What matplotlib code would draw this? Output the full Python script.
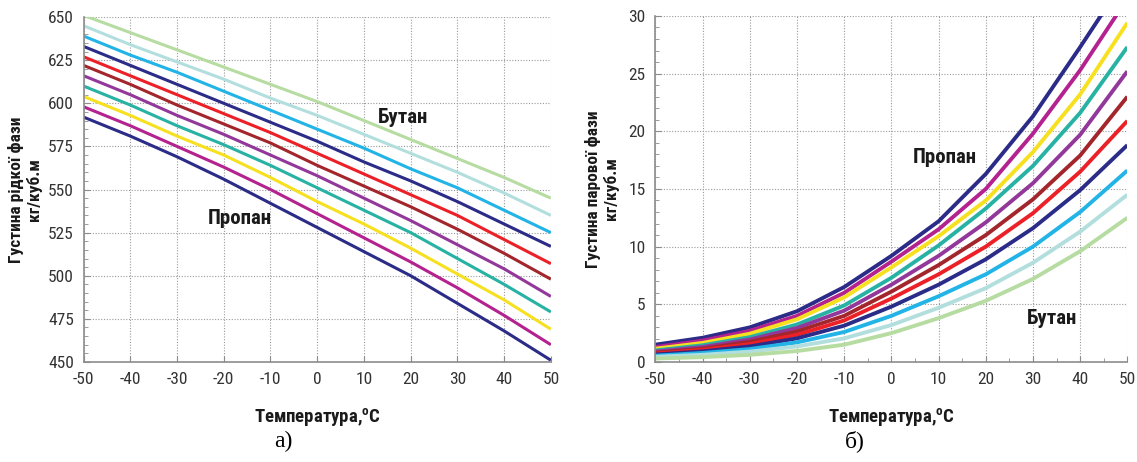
import numpy as np
import matplotlib
matplotlib.use('Agg')
import matplotlib.pyplot as plt
from matplotlib import font_manager as fm
from matplotlib.ticker import MultipleLocator

#######################################################################################################
# data (propane -> butane, 11 mixtures)
#######################################################################################################
temp = [-50, -40, -30, -20, -10, 0, 10, 20, 30, 40, 50]

liq_propane = [592, 581, 569, 556, 542, 528, 514, 500, 484, 468, 451]
liq_mix_1 = [598, 587, 575, 563, 550, 536, 522, 508, 493, 477, 460]
liq_mix_2 = [604, 593, 581, 570, 557, 543, 530, 516, 501, 486, 469]
liq_mix_3 = [610, 599, 587, 576, 564, 551, 538, 525, 510, 495, 479]
liq_mix_4 = [616, 605, 593, 582, 570, 558, 545, 532, 518, 504, 488]
liq_mix_5 = [622, 611, 599, 588, 577, 564, 552, 540, 527, 513, 498]
liq_mix_6 = [627, 616, 605, 594, 583, 571, 559, 547, 535, 521, 507]
liq_mix_7 = [633, 622, 611, 600, 589, 578, 566, 555, 543, 530, 517]
liq_mix_8 = [639, 628, 618, 607, 596, 585, 574, 562, 551, 538, 525]
liq_mix_9 = [645, 634, 624, 614, 603, 593, 582, 571, 560, 548, 535]
liq_butane = [651, 641, 631, 621, 611, 601, 590, 579, 568, 557, 545]

vap_propane = [1.5, 2.1, 3.0, 4.4, 6.5, 9.2, 12.2, 16.3, 21.3, 27.3, 33.5]
vap_mix_1 = [1.3, 1.85, 2.7, 4.0, 6.0, 8.7, 11.5, 15.0, 19.8, 25.3, 31.5]
vap_mix_2 = [1.15, 1.65, 2.45, 3.7, 5.6, 8.2, 10.9, 14.0, 18.2, 23.2, 29.4]
vap_mix_3 = [1.0, 1.45, 2.15, 3.25, 4.9, 7.3, 10.1, 13.3, 17.0, 21.6, 27.3]
vap_mix_4 = [0.9, 1.3, 1.95, 2.95, 4.45, 6.7, 9.2, 12.1, 15.5, 19.7, 25.2]
vap_mix_5 = [0.8, 1.15, 1.75, 2.65, 4.0, 6.1, 8.4, 11.0, 14.1, 17.9, 23.0]
vap_mix_6 = [0.72, 1.05, 1.55, 2.35, 3.6, 5.5, 7.6, 10.0, 12.9, 16.5, 20.9]
vap_mix_7 = [0.65, 0.92, 1.35, 2.05, 3.15, 4.8, 6.7, 8.9, 11.6, 14.9, 18.8]
vap_mix_8 = [0.55, 0.78, 1.12, 1.7, 2.6, 4.0, 5.7, 7.6, 10.0, 13.0, 16.6]
vap_mix_9 = [0.45, 0.62, 0.9, 1.35, 2.05, 3.2, 4.7, 6.4, 8.6, 11.3, 14.5]
vap_butane = [0.3, 0.42, 0.62, 0.95, 1.5, 2.5, 3.8, 5.3, 7.2, 9.6, 12.5]

liq_all = [liq_propane, liq_mix_1, liq_mix_2, liq_mix_3, liq_mix_4, liq_mix_5,
           liq_mix_6, liq_mix_7, liq_mix_8, liq_mix_9, liq_butane]
vap_all = [vap_propane, vap_mix_1, vap_mix_2, vap_mix_3, vap_mix_4, vap_mix_5,
           vap_mix_6, vap_mix_7, vap_mix_8, vap_mix_9, vap_butane]

line_colors = ['#2b2b88', '#b3228e', '#f6e020', '#27b2a4', '#93389b', '#a2262c',
               '#ec2128', '#2b2b88', '#22b4e6', '#b2dfde', '#b6dca2']

#######################################################################################################
# fonts: narrow sans for the chart, serif for the sub-labels
#######################################################################################################
names = {f.name for f in fm.fontManager.ttflist}
narrow = 'DejaVu Sans'
for cand in ['Liberation Sans Narrow', 'Roboto Condensed', 'DejaVu Sans Condensed']:
    if cand in names:
        narrow = cand
        break
plt.rcParams['font.family'] = [narrow, 'DejaVu Sans']
plt.rcParams['axes.unicode_minus'] = False
plt.rcParams['mathtext.fontset'] = 'custom'
plt.rcParams['mathtext.bf'] = narrow + ':bold'


def style_axes(ax, ylim, ymajor, yminor):
    ax.set_xlim(-50, 50)
    ax.set_ylim(*ylim)
    ax.xaxis.set_major_locator(MultipleLocator(10))
    ax.yaxis.set_major_locator(MultipleLocator(ymajor))
    ax.yaxis.set_minor_locator(MultipleLocator(yminor))
    ax.grid(True, which='major', linestyle=(0, (1, 1.5)), color='#9a9a9a', linewidth=0.8)
    ax.spines['top'].set_visible(False)
    ax.spines['right'].set_visible(False)
    for s in ['left', 'bottom']:
        ax.spines[s].set_color('#8c8c8c')
        ax.spines[s].set_linewidth(1.2)
    ax.tick_params(which='both', direction='in', color='#8c8c8c', labelcolor='#333333',
                   labelsize=12.5, pad=7)
    ax.tick_params(which='major', length=4)
    ax.tick_params(which='minor', length=3)
    ax.set_axisbelow(True)


fig = plt.figure(figsize=(11.37, 4.62), dpi=100)

#######################################################################################################
# a) liquid phase
#######################################################################################################
ax1 = fig.add_axes([0.0735, 0.2165, 0.4110, 0.7465])
for vals, clr in zip(liq_all, line_colors):
    ax1.plot(temp, vals, color=clr, linewidth=2.2, solid_capstyle='butt')
style_axes(ax1, (450, 650), 25, 5)
ax1.text(13.0, 592, 'Бутан', fontsize=15, fontweight='bold', color='#1a1a1a', va='center')
ax1.text(-23.5, 533, 'Пропан', fontsize=15, fontweight='bold', color='#1a1a1a', va='center')
ax1.set_ylabel('Густина рідкої фази\nкг/куб.м', fontsize=12.5, fontweight='bold',
               color='#1a1a1a', labelpad=4, linespacing=1.15)
ax1.set_xlabel(r'Температура,$^{\mathbf{o}}$C', fontsize=13.5, fontweight='bold',
               color='#1a1a1a', labelpad=14)

#######################################################################################################
# б) vapour phase
#######################################################################################################
ax2 = fig.add_axes([0.5765, 0.2165, 0.4150, 0.7490])
for vals, clr in zip(vap_all, line_colors):
    ax2.plot(temp, vals, color=clr, linewidth=2.8, solid_capstyle='butt')
style_axes(ax2, (0, 30), 5, 1)
ax2.xaxis.set_minor_locator(MultipleLocator(5))
ax2.text(4.5, 17.7, 'Пропан', fontsize=15, fontweight='bold', color='#1a1a1a', va='center')
ax2.text(28.8, 3.8, 'Бутан', fontsize=15, fontweight='bold', color='#1a1a1a', va='center')
ax2.set_ylabel('Густина парової фази\nкг/куб.м', fontsize=12.5, fontweight='bold',
               color='#1a1a1a', labelpad=7, linespacing=1.15)
ax2.set_xlabel(r'Температура,$^{\mathbf{o}}$C', fontsize=13.5, fontweight='bold',
               color='#1a1a1a', labelpad=14)

# sub-figure captions
fig.text(0.249, 0.032, 'а)', fontsize=17, family=['Liberation Serif', 'DejaVu Serif'], ha='center')
fig.text(0.752, 0.032, 'б)', fontsize=17, family=['Liberation Serif', 'DejaVu Serif'], ha='center')

plt.savefig('out.png', dpi=100)
